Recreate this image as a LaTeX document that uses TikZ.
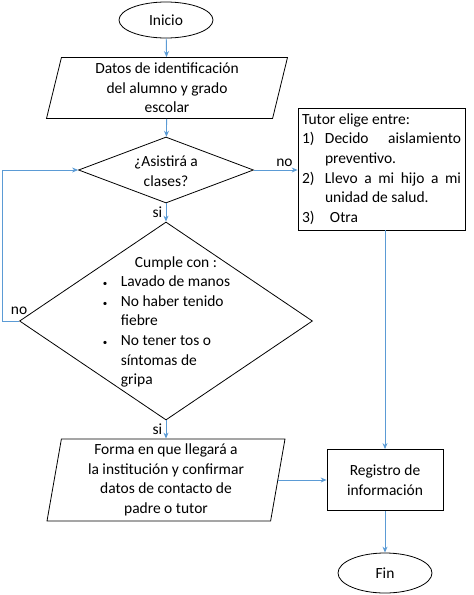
\documentclass[tikz,border=0pt]{standalone}
\usepackage{fontspec}
\setmainfont{Carlito}
\definecolor{LineColor}{RGB}{91,155,213}
\usepackage{tikz}
\usetikzlibrary{positioning, arrows.meta, shapes.geometric, calc}
\tikzstyle{arrow} = [LineColor, line width=0.9pt, ->, >={Stealth[length=6pt,width=5pt]}]
\tikzstyle{outline} = [draw, line width=0.8pt]
\newcommand{\smallbullet}{\makebox[19pt][l]{\hspace{1pt}\fontsize{9}{9}\selectfont\textbullet}}

\begin{document}
\begin{tikzpicture}[x=1pt, y=-1pt, font=\fontsize{15.5}{19.6}\selectfont]
            \useasboundingbox (0,0) rectangle (474,595);
            % Start
            \node[outline, ellipse, minimum width=94pt, minimum height=36pt] (inicio) at (166,20) {Inicio};

            % Input data
            \node[outline, trapezium, trapezium left angle=74, trapezium right angle=106, trapezium stretches body, minimum width=241pt, minimum height=61pt, inner sep=1pt, align=center] (datos) at (167,88) {Datos de identificación\\del alumno y grado\\escolar};

            % Decisions
            \node[outline, diamond, minimum width=175pt, minimum height=66pt, inner sep=0pt] (asiste) at (166,170) {};
            \node[align=center] (asistetxt) at (166,171) {¿Asistirá a\\clases?};
            \node[outline, diamond, minimum width=293pt, minimum height=198pt, inner sep=0pt] (cumple) at (166,321) {};
            \node[inner sep=0pt] (cumpletxt) at (166,322) {\begin{tabular}{@{}l@{}l@{}}
                \multicolumn{2}{@{\hspace{20pt}}c@{}}{Cumple con :}\\
                \smallbullet & Lavado de manos\\
                \smallbullet & No haber tenido\\
                & fiebre\\
                \smallbullet & No tener tos o\\
                & síntomas de\\
                & gripa
            \end{tabular}};

            % Tutor options
            \node[outline, rectangle, text width=159pt, minimum height=122pt, inner xsep=4pt, align=justify] (tutor) at (381.5,169) {Tutor elige entre:\par
                \hangindent=23pt\hangafter=1\noindent\makebox[23pt][l]{1)}Decido aislamiento\linebreak preventivo.\par
                \hangindent=23pt\hangafter=1\noindent\makebox[23pt][l]{2)}Llevo a mi hijo a mi\linebreak unidad de salud.\par
                \noindent\makebox[28pt][l]{3)}Otra};

            % Arrival data
            \node[outline, trapezium, trapezium left angle=79, trapezium right angle=101, trapezium stretches body, minimum width=238pt, minimum height=82pt, inner sep=1pt, align=center] (forma) at (166,480) {Forma en que llegará a\\la institución y confirmar\\datos de contacto de\\padre o tutor};

            % Record and end
            \node[outline, rectangle, minimum width=116pt, minimum height=61pt, align=center] (registro) at (385,480) {Registro de\\información};
            \node[outline, ellipse, minimum width=94pt, minimum height=40pt] (fin) at (385,573) {Fin};

            % Connections
            \draw[arrow] (inicio) -- (datos);
            \draw[arrow] (datos) -- (asiste);
            \draw[arrow] (asiste) -- node[left, text=black] {si} (cumple);
            \draw[arrow] (cumple.west) node[above, text=black, xshift=0pt, yshift=3pt] {no} -- ++(-17,0) |- (asiste.west);
            \draw[arrow] (asiste.east) -- node[above, text=black, pos=0.7] {no} (asiste.east -| tutor.west);
            \draw[arrow] (registro.north |- tutor.south) -- (registro.north);
            \draw[arrow] (cumple) -- node[left, text=black] {si} (forma);
            \draw[arrow] (forma.east) -- (forma.east -| registro.west);
            \draw[arrow] (registro) -- (fin);
        \end{tikzpicture}
\end{document}
